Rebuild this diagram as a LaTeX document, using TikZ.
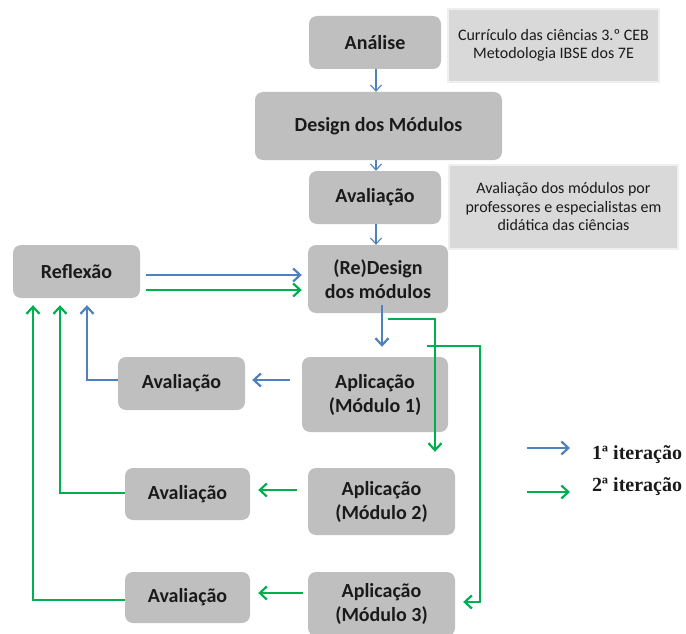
\documentclass[tikz,border=0pt]{standalone}
\usepackage{fontspec}
\setmainfont{Carlito}
\newfontfamily\legendfont{Liberation Serif}
\usetikzlibrary{arrows.meta,calc}
\definecolor{boxgray}{HTML}{BFBFBF}
\definecolor{notegray}{HTML}{D9D9D9}
\definecolor{noteedge}{HTML}{EFEFEF}
\definecolor{itblue}{HTML}{4F81BD}
\definecolor{itgreen}{HTML}{00B050}
\definecolor{ink}{HTML}{1A1A1A}
\tikzset{
  x=1pt, y=1pt,
  stage/.style={fill=boxgray, rounded corners=8pt, align=center, inner sep=0pt,
    font=\fontsize{20}{24}\selectfont\bfseries, text=ink},
  note/.style={fill=notegray, draw=noteedge, line width=1.5pt, align=center, inner sep=0pt,
    font=\fontsize{16}{18.5}\selectfont, text=ink},
  thinflow/.style={draw=itblue, line width=1.1pt, -{Straight Barb[length=6pt,width=11pt,line width=1.1pt]}},
  flow/.style={line width=2.2pt, -{Straight Barb[length=7pt,width=13pt,line width=2.2pt]}},
  bluearrow/.style={flow, draw=itblue},
  greenarrow/.style={flow, draw=itgreen},
  legendtext/.style={anchor=west, inner sep=0pt, font=\legendfont\fontsize{20}{22}\selectfont\bfseries, text=ink}
}
\begin{document}
\begin{tikzpicture}
\useasboundingbox (0,0) rectangle (686,-634);

% design stages
\node[stage, minimum width=132, minimum height=53] (ana) at (375,-42.5) {Análise};
\node[note, minimum width=211, minimum height=73] (n1) at (553.5,-45.5) {Currículo das ciências 3.º CEB\\Metodologia IBSE dos 7E};
\node[stage, minimum width=247, minimum height=68] (des) at (378.5,-126) {Design dos Módulos};
\node[stage, minimum width=132, minimum height=53] (av0) at (375,-197.5) {Avaliação};
\node[note, minimum width=229, minimum height=84] (n2) at (563.5,-207) {Avaliação dos módulos por\\professores e especialistas em\\didática das ciências};

% iteration cycle
\node[stage, minimum width=127, minimum height=53] (ref) at (76.5,-271.5) {Reflexão};
\node[stage, minimum width=140, minimum height=68] (red) at (378,-279) {(Re)Design\\dos módulos};
\node[stage, minimum width=146, minimum height=75] (ap1) at (375,-394.5) {Aplicação\\(Módulo 1)};
\node[stage, minimum width=127, minimum height=53] (av1) at (181.5,-383.5) {Avaliação};
\node[stage, minimum width=147, minimum height=67] (ap2) at (381.5,-501.5) {Aplicação\\(Módulo 2)};
\node[stage, minimum width=125, minimum height=52] (av2) at (187.5,-494) {Avaliação};
\node[stage, minimum width=147, minimum height=64] (ap3) at (381.5,-604) {Aplicação\\(Módulo 3)};
\node[stage, minimum width=125, minimum height=51] (av3) at (187.5,-597.5) {Avaliação};

% free ends of the green routes
\coordinate (g1) at (388,-319);
\coordinate (g2) at (427,-346);

% top sequence
\draw[thinflow] (ana.south -| 376,0) -- (des.north -| 376,0);
\draw[thinflow] (des.south -| 376,0) -- (av0.north -| 376,0);
\draw[thinflow] (av0.south -| 376,0) -- (red.north -| 376,0);

% reflection back into redesign
\draw[bluearrow, shorten <=6pt, shorten >=6pt] (ref.east |- 0,-275) -- (red.west |- 0,-275);
\draw[greenarrow, shorten <=6pt, shorten >=6pt] (ref.east |- 0,-290) -- (red.west |- 0,-290);

% first iteration
\draw[bluearrow, shorten >=10pt] ([yshift=8pt]red.south -| 382,0) -- (ap1.north -| 382,0);
\draw[bluearrow, shorten <=12pt, shorten >=7pt] (ap1.west |- 0,-380) -- (av1.east |- 0,-380);
\draw[bluearrow, shorten >=7pt] (av1.west |- 0,-380) -| (ref.south -| 87,0);

% second iteration
\draw[greenarrow, shorten >=16pt] (g1) -| (ap2.north -| 435,0);
\draw[greenarrow, shorten >=8pt] (g2) -| (480,-602) -- (ap3.east |- 0,-602);
\draw[greenarrow, shorten <=11pt, shorten >=8pt] (ap2.west |- 0,-490) -- (av2.east |- 0,-490);
\draw[greenarrow, shorten <=5pt, shorten >=8pt] (ap3.west |- 0,-593) -- (av3.east |- 0,-593);
\draw[greenarrow, shorten >=7pt] (av2.west |- 0,-493) -| (ref.south -| 60,0);
\draw[greenarrow, shorten >=7pt] (av3.west |- 0,-600) -| (ref.south -| 33,0);

% legend
\coordinate (l1a) at (527,-448);
\coordinate (l1b) at (570,-448);
\coordinate (l2a) at (527,-492);
\coordinate (l2b) at (570,-492);
\draw[bluearrow] (l1a) -- (l1b);
\draw[greenarrow] (l2a) -- (l2b);
\node[legendtext] (t1) at (592,-455) {1ª iteração};
\node[legendtext] (t2) at (592,-487) {2ª iteração};
\end{tikzpicture}
\end{document}
